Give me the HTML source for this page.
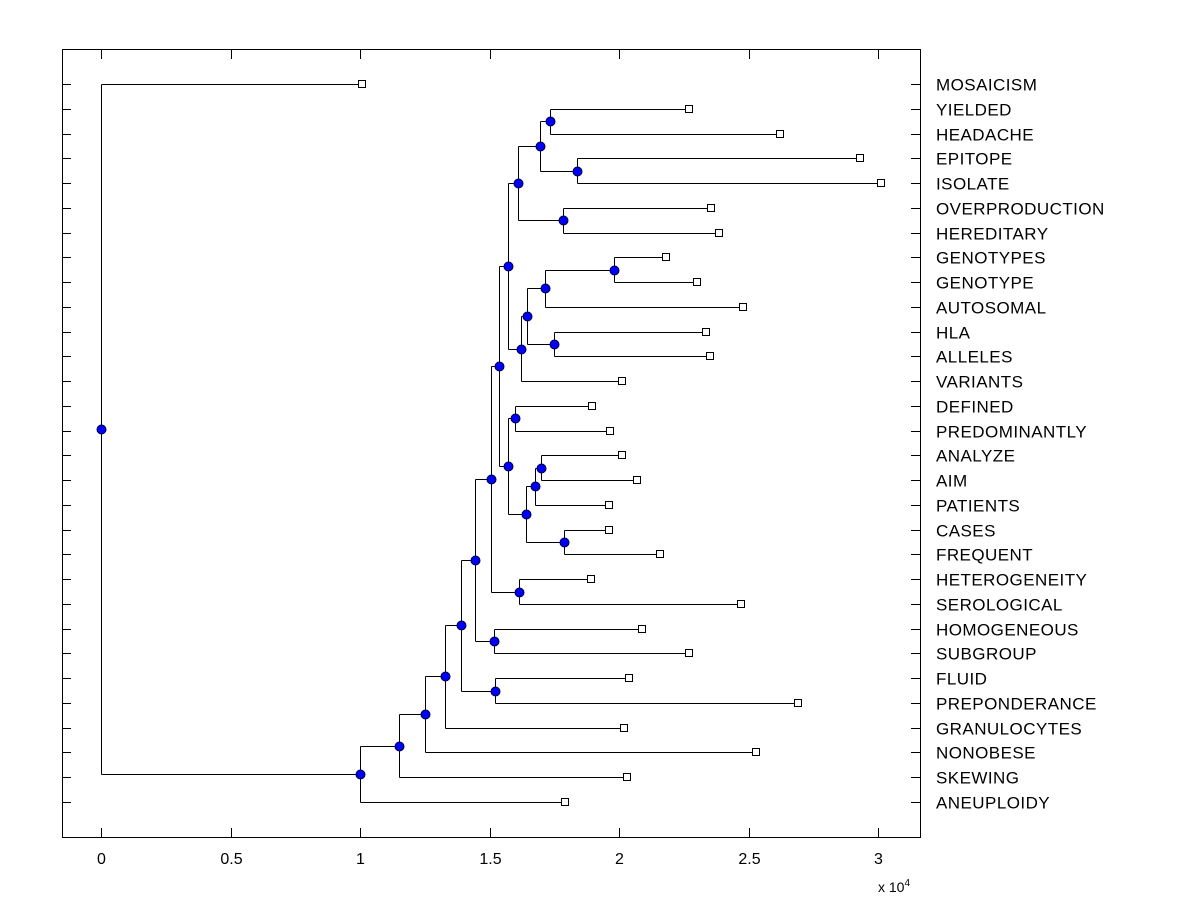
<!DOCTYPE html>
<html><head><meta charset="utf-8"><style>
body{margin:0;background:#fff;}
svg{display:block;font-family:"Liberation Sans",Arial,sans-serif;}
</style></head><body>
<svg id="chart" width="1200" height="900">
<rect x="0" y="0" width="1200" height="900" fill="#fff"/>
<rect x="62.5" y="49.5" width="858" height="788" fill="none" stroke="#000"/>
<g id="ticks"></g><g id="tree"></g><g id="labels"></g>
<text x="878" y="892" font-size="14">x 10<tspan dy="-6" font-size="10">4</tspan></text>
</svg>
<script>
const leafLabels=["MOSAICISM","YIELDED","HEADACHE","EPITOPE","ISOLATE","OVERPRODUCTION","HEREDITARY","GENOTYPES","GENOTYPE","AUTOSOMAL","HLA","ALLELES","VARIANTS","DEFINED","PREDOMINANTLY","ANALYZE","AIM","PATIENTS","CASES","FREQUENT","HETEROGENEITY","SEROLOGICAL","HOMOGENEOUS","SUBGROUP","FLUID","PREPONDERANCE","GRANULOCYTES","NONOBESE","SKEWING","ANEUPLOIDY"];
const leafHeights=[1.008,2.27,2.62,2.93,3.01,2.355,2.386,2.18,2.30,2.48,2.336,2.35,2.01,1.896,1.965,2.01,2.07,1.96,1.96,2.16,1.89,2.47,2.09,2.27,2.04,2.69,2.02,2.53,2.03,1.79];
// internal nodes: "L#" = leaf index, "N#" = node index
const nodeNames=["root","n1","n2","n3","n4","n5","nFluid","n6","nHomog","n7","nHet","n8","n10","nDef","n11","nCases","n12","n13","n9","n14","nOver","n16","nYield","nEpi","n15","n17","nHla","n18","nGts"];
const nodeHeights=[0,1.0,1.15,1.25,1.33,1.39,1.52,1.445,1.517,1.505,1.614,1.537,1.571,1.60,1.64,1.788,1.676,1.699,1.571,1.61,1.784,1.695,1.734,1.838,1.622,1.645,1.749,1.714,1.98];
const nodeChildren=[["L0","N1"],["L29","N2"],["L28","N3"],["L27","N4"],["L26","N5"],["N7","N6"],["L24","L25"],["N9","N8"],["L22","L23"],["N11","N10"],["L20","L21"],["N18","N12"],["N13","N14"],["L13","L14"],["N16","N15"],["L18","L19"],["N17","L17"],["L15","L16"],["N19","N24"],["N21","N20"],["L5","L6"],["N22","N23"],["L1","L2"],["L3","L4"],["N25","L12"],["N27","N26"],["L10","L11"],["N28","L9"],["L7","L8"]];
const xTicks=[0,0.5,1,1.5,2,2.5,3];
const xTickLabels=["0","0.5","1","1.5","2","2.5","3"];

const NS="http://www.w3.org/2000/svg";
const xS=v=>101+v*259;
const yS=i=>84+i*(802-84)/29;
function mk(tag,attrs,parent){const e=document.createElementNS(NS,tag);for(const k in attrs)e.setAttribute(k,attrs[k]);parent.appendChild(e);return e;}
const gT=document.getElementById('ticks'),gTr=document.getElementById('tree'),gL=document.getElementById('labels');
xTicks.forEach((t,i)=>{const x=Math.round(xS(t))+0.5;
 let l=mk('line',{x1:x,x2:x,y1:837,y2:828,stroke:'#000'},gT);
 
 
 l=mk('line',{x1:x,x2:x,y1:50,y2:59,stroke:'#000'},gT);
 
 
 const tx=mk('text',{x:x,y:864,'font-size':16,'text-anchor':'middle'},gT);tx.textContent=xTickLabels[i];
 
 
});
leafLabels.forEach((n,i)=>{const y=Math.round(yS(i))+0.5;
 let l=mk('line',{x1:63,x2:71,y1:y,y2:y,stroke:'#000'},gT);
 
 
 l=mk('line',{x1:911,x2:920,y1:y,y2:y,stroke:'#000'},gT);
 
 
 const t=mk('text',{x:936,y:y+6,'font-size':17,'letter-spacing':0.45},gL);t.textContent=n;
 
 
});
const pos={};
function getPos(id){if(pos[id])return pos[id];const k=id[0],i=+id.slice(1);let p;
 if(k==='L')p={x:xS(leafHeights[i]),y:yS(i)};
 else{const a=getPos(nodeChildren[i][0]),b=getPos(nodeChildren[i][1]);p={x:xS(nodeHeights[i]),y:(a.y+b.y)/2};}
 pos[id]=p;return p;}
nodeChildren.forEach((ch,i)=>{const p=getPos('N'+i);const a=getPos(ch[0]),b=getPos(ch[1]);
 const x=Math.round(p.x)+0.5;
 let l=mk('line',{x1:x,x2:x,y1:Math.round(a.y)+0.5,y2:Math.round(b.y)+0.5,stroke:'#000'},gTr);
 
 
 [a,b].forEach(c=>{const y=Math.round(c.y)+0.5;
  const h=mk('line',{x1:x,x2:Math.round(c.x)+0.5,y1:y,y2:y,stroke:'#000'},gTr);
  
  });
});
leafLabels.forEach((n,i)=>{const p=getPos('L'+i);
 const r=mk('rect',{x:Math.round(p.x)-3.5,y:Math.round(p.y)-3.5,width:7,height:7,fill:'#fff',stroke:'#000'},gTr);
 
 
});
nodeChildren.forEach((ch,i)=>{const p=getPos('N'+i);
 const c=mk('circle',{cx:Math.round(p.x)+0.5,cy:Math.round(p.y)+0.5,r:4.5,fill:'#0000ff',stroke:'#000033'},gTr);
 
 
});
</script>
</body></html>
